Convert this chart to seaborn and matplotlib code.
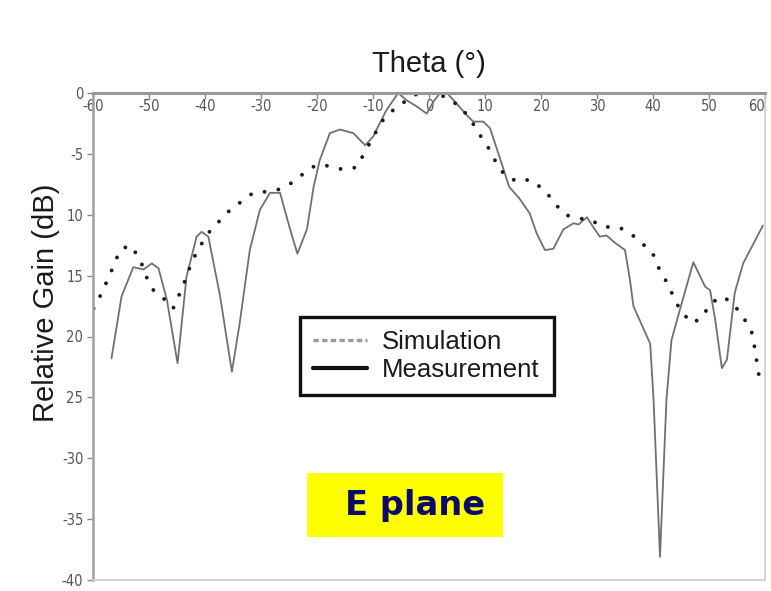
import matplotlib
matplotlib.use("Agg")
import matplotlib.pyplot as plt
from matplotlib.lines import Line2D
from matplotlib.patches import Rectangle
from matplotlib.ticker import FixedLocator, FixedFormatter
import seaborn as sns
import pandas as pd

# Radiation pattern, E plane
meas_theta = [-56.7, -54.9, -52.8, -51.0, -49.5, -48.3, -46.8, -44.9, -43.3, -41.5,
              -40.6, -39.4, -37.3, -35.2, -33.8, -32.0, -30.2, -28.4, -26.6, -24.8,
              -23.5, -21.8, -20.6, -19.5, -17.7, -15.9, -13.5, -11.4, -10.0, -7.6,
              -5.5, -4.0, -2.2, -0.4, 0.8, 2.0, 3.2, 4.9, 6.7, 7.9,
              9.7, 10.9, 12.7, 14.3, 16.2, 18.0, 19.2, 20.7, 22.2, 24.0,
              25.8, 26.7, 28.2, 29.3, 30.5, 31.7, 33.2, 35.0, 35.9, 36.5,
              39.5, 40.1, 41.25, 42.4, 43.3, 44.8, 47.2, 49.3, 50.2, 51.1,
              52.3, 53.2, 54.6, 56.1, 59.6]
meas_gain = [-21.8, -16.7, -14.3, -14.5, -14.0, -14.4, -17.0, -22.2, -15.1, -11.8,
             -11.4, -11.8, -16.7, -22.9, -18.9, -12.9, -9.6, -8.2, -8.2, -11.2,
             -13.2, -11.2, -7.7, -5.5, -3.3, -3.0, -3.3, -4.3, -3.6, -1.4,
             0.0, -0.6, -1.1, -1.7, -0.7, 0.0, 0.0, -0.85, -1.8, -2.35,
             -2.35, -2.9, -5.4, -7.7, -8.7, -9.9, -11.5, -12.9, -12.8, -11.2,
             -10.7, -10.8, -10.2, -11.0, -11.8, -11.7, -12.3, -12.9, -15.4, -17.5,
             -20.6, -25.2, -38.1, -25.2, -20.3, -17.8, -13.9, -15.9, -16.2, -18.6,
             -22.6, -21.9, -16.4, -14.0, -10.9]

sim_theta = [-59.9, -58.75, -57.55, -56.4, -55.2, -53.4, -51.6, -50.7, -49.2, -47.1,
             -45.7, -44.5, -43.3, -42.4, -40.9, -39.4, -37.6, -35.5, -33.45, -31.4,
             -29.0, -26.6, -24.2, -22.1, -20.1, -17.7, -15.3, -12.9, -11.4, -9.95,
             -8.45, -6.4, -4.0, -1.9, 0.2, 2.9, 5.5, 7.3, 9.1, 10.6,
             12.1, 13.6, 15.95, 18.0, 20.7, 22.5, 24.3, 26.7, 28.75, 31.1,
             33.8, 35.9, 38.0, 39.8, 40.95, 42.4, 43.75, 44.8, 46.9, 48.7,
             50.2, 52.4, 54.3, 56.1, 57.6, 58.2, 58.6, 59.1, 59.6]
sim_gain = [-17.7, -16.7, -15.5, -14.3, -12.9, -12.5, -13.6, -14.9, -16.2, -17.0,
            -17.7, -16.45, -15.1, -13.9, -12.6, -11.5, -10.6, -9.6, -8.9, -8.2,
            -8.1, -7.9, -7.3, -6.5, -5.9, -6.0, -6.3, -6.1, -4.8, -3.6,
            -2.35, -1.4, -0.6, 0.0, 0.0, -0.3, -1.1, -2.1, -3.45, -4.5,
            -5.8, -6.8, -7.3, -7.1, -8.0, -9.1, -10.0, -10.3, -10.4, -11.0,
            -11.0, -11.5, -12.35, -13.0, -14.3, -15.5, -16.8, -17.8, -18.9, -18.5,
            -17.3, -16.7, -17.3, -18.4, -19.6, -21.0, -22.3, -23.7, -24.0]

x_ticks = [-60, -50, -40, -30, -20, -10, 0, 10, 20, 30, 40, 50, 60]
x_tick_labels = ["-60", "-50", "-40", "-30", "-20", "-10", "0", "10", "20", "30", "40", "50", "60"]
y_ticks = [0, -5, -10, -15, -20, -25, -30, -35, -40]
y_tick_labels = ["0", "-5", "10", "15", "20", "25", "-30", "-35", "-40"]
series_names = ["Simulation", "Measurement"]

sns.set_style("white")
plt.rcParams["font.family"] = ["Liberation Sans", "DejaVu Sans"]

fig = plt.figure(figsize=(7.71, 5.91), dpi=100)
ax = fig.add_axes([93 / 771, 1 - 580 / 591, 672 / 771, 487 / 591])

meas_df = pd.DataFrame({"theta": meas_theta, "gain": meas_gain})
sim_df = pd.DataFrame({"theta": sim_theta, "gain": sim_gain})

sns.lineplot(data=meas_df, x="theta", y="gain", ax=ax, sort=False, estimator=None,
             color="#707070", linewidth=1.3)
sns.lineplot(data=sim_df, x="theta", y="gain", ax=ax, sort=False, estimator=None,
             color="#1a1a1a", linewidth=2.8)
sim_line = ax.lines[-1]
sim_line.set_dashes((0.01, 3.6))
sim_line.set_dash_capstyle("round")

ax.set_xlim(-60, 60)
ax.set_ylim(-40, 0)
ax.set_xlabel("")
ax.set_ylabel("Relative Gain (dB)", fontsize=21, color="#1a1a1a")
ax.yaxis.set_label_coords(-0.049, 0.569)
ax.set_title("Theta (°)", fontsize=21, color="#1a1a1a", pad=15)

ax.xaxis.set_major_locator(FixedLocator(x_ticks))
ax.xaxis.set_major_formatter(FixedFormatter(x_tick_labels))
ax.yaxis.set_major_locator(FixedLocator(y_ticks))
ax.yaxis.set_major_formatter(FixedFormatter(y_tick_labels))

ax.tick_params(axis="x", top=True, bottom=False, labeltop=True, labelbottom=False,
               direction="in", length=4, width=1, color="#888888", pad=-15,
               labelsize=10.5, labelcolor="#555555")
ax.tick_params(axis="y", left=True, direction="out", length=4, width=1,
               color="#888888", pad=3, labelsize=10.5, labelcolor="#555555")
for lab in ax.get_xticklabels() + ax.get_yticklabels():
    lab.set_family(["DejaVu Sans"])
    lab.set_fontstretch("condensed")
ax.get_xticklabels()[-1].set_horizontalalignment("right")

ax.spines["top"].set_color("#999999")
ax.spines["top"].set_linewidth(2.2)
ax.spines["left"].set_color("#a0a0a0")
ax.spines["left"].set_linewidth(1.8)
ax.spines["right"].set_color("#d0d0d0")
ax.spines["right"].set_linewidth(1.3)
ax.spines["bottom"].set_color("#d0d0d0")
ax.spines["bottom"].set_linewidth(1.3)

handles = [Line2D([], [], color="#9a9a9a", linewidth=2.4, dashes=(1.6, 1.0)),
           Line2D([], [], color="#111111", linewidth=3.0)]
leg = ax.legend(handles, series_names, loc="upper left",
                bbox_to_anchor=(300 / 771, 1 - 394 / 591, 254 / 771, 77 / 591),
                bbox_transform=fig.transFigure, mode="expand",
                fontsize=18.5, frameon=True, fancybox=False, handlelength=2.1,
                handletextpad=0.6, labelspacing=0.15, borderpad=0.5,
                borderaxespad=0.0)
frame = leg.get_frame()
frame.set_edgecolor("#111111")
frame.set_linewidth(2.4)
frame.set_facecolor("white")
frame.set_alpha(1)
for t in leg.get_texts():
    t.set_color("#1a1a1a")

fig.patches.append(Rectangle((307 / 771, 1 - 537 / 591), 196 / 771, 64 / 591,
                             transform=fig.transFigure, facecolor="#ffff00",
                             edgecolor="none", zorder=5))
fig.text(415.5 / 771, 1 - 506 / 591, "E plane", ha="center", va="center",
         fontsize=24.2, fontweight="bold", color="#0a0a6a",
         family=["DejaVu Sans"], zorder=6)

fig.savefig("out.png", dpi=100)
